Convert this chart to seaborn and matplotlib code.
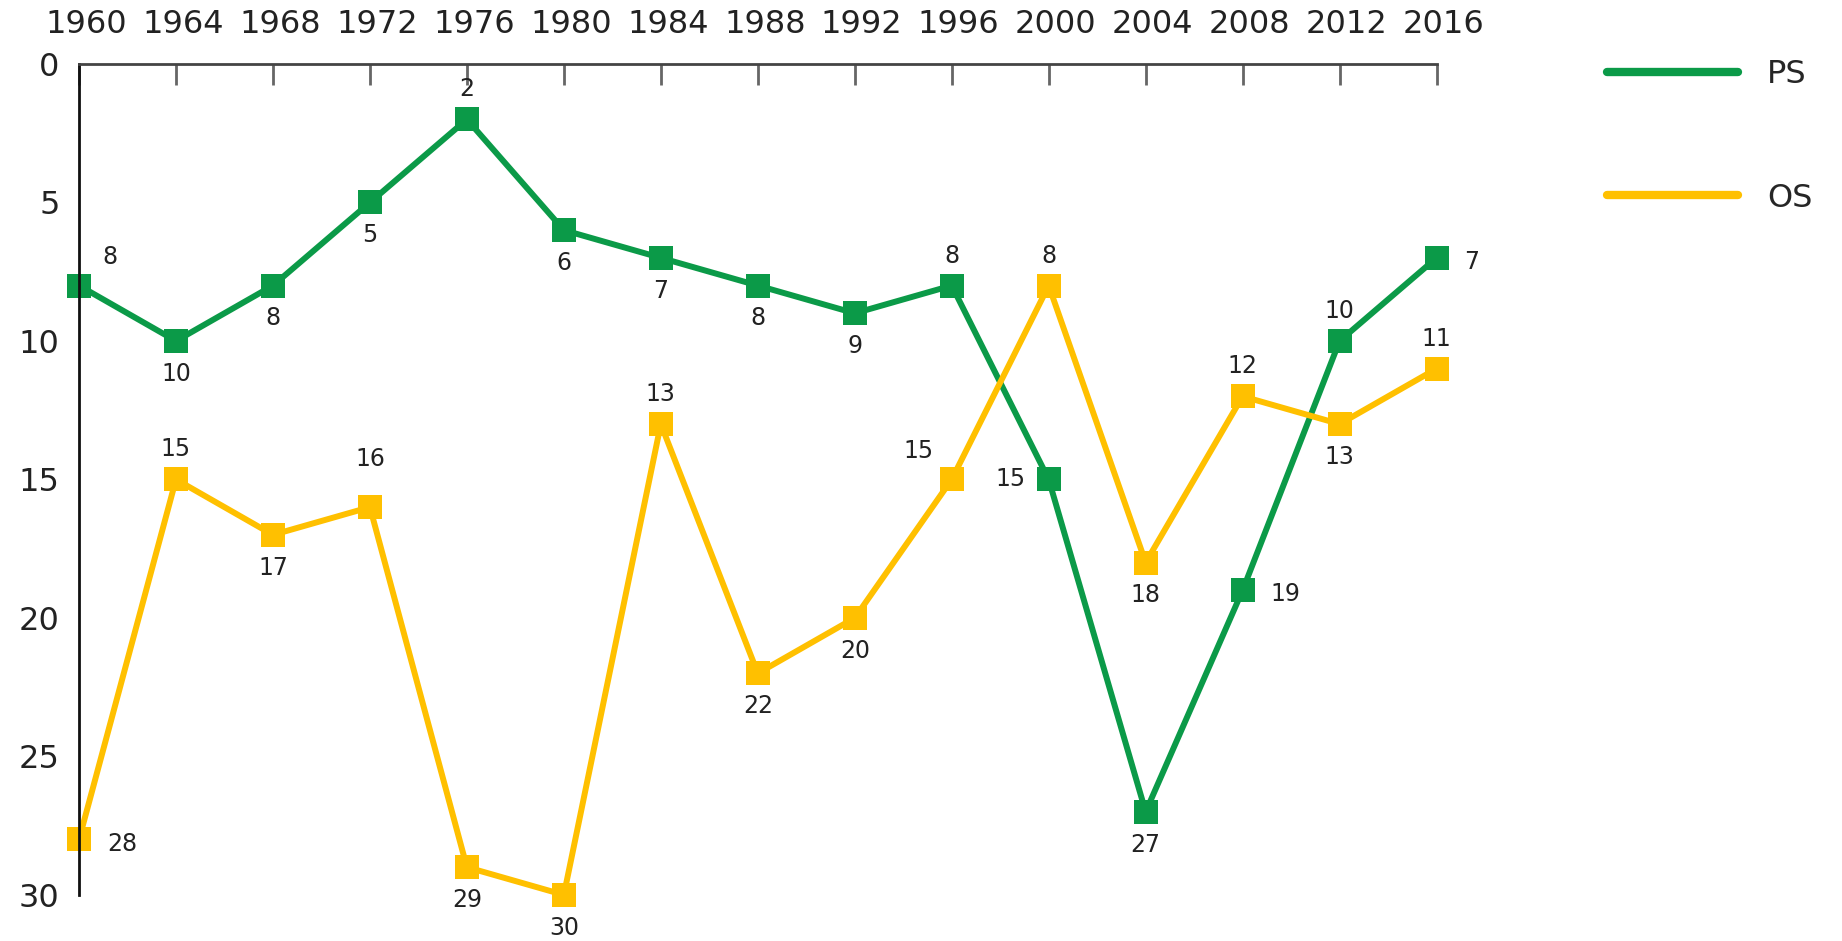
import matplotlib
matplotlib.use("Agg")
import matplotlib.pyplot as plt
import matplotlib.transforms as mtransforms
import seaborn as sns
import pandas as pd
from matplotlib.lines import Line2D

# Data (rank, lower is better)
years = [1960, 1964, 1968, 1972, 1976, 1980, 1984, 1988, 1992, 1996, 2000, 2004, 2008, 2012, 2016]
ps = [8, 10, 8, 5, 2, 6, 7, 8, 9, 8, 15, 27, 19, 10, 7]
os_ = [28, 15, 17, 16, 29, 30, 13, 22, 20, 15, 8, 18, 12, 13, 11]
series = ["PS", "OS"]

# where each value label sits relative to its marker
ps_pos = ["ur", "b", "b", "b", "a", "b", "b", "b", "b", "a", "l", "b", "r", "a", "r"]
os_pos = ["r", "a", "b", "aa", "b", "b", "a", "b", "b", "al", "a", "b", "a", "b", "a"]

colors = {"PS": "#0b9a48", "OS": "#ffc000"}

df = pd.DataFrame({
    "year": years * 2,
    "rank": ps + os_,
    "party": ["PS"] * len(years) + ["OS"] * len(years),
})

sns.set_style("white")
plt.rcParams["font.family"] = ["DejaVu Sans"]

fig = plt.figure(figsize=(18.42, 9.41), dpi=100)
ax = fig.add_axes([0.0429, 0.049, 0.737, 0.883])

sns.lineplot(data=df, x="year", y="rank", hue="party", hue_order=series,
             palette=colors, marker="s", markersize=17, markeredgewidth=0,
             linewidth=4.3, ax=ax, legend=False)
for ln in ax.lines:
    ln.set_clip_on(False)

offsets = {
    "a": (0, 13, "center", "bottom"),
    "aa": (0, 26, "center", "bottom"),
    "b": (0, -15, "center", "top"),
    "l": (-17, 0, "right", "center"),
    "r": (20, -3, "left", "center"),
    "ur": (17, 12, "left", "bottom"),
    "al": (-13, 12, "right", "bottom"),
}
for vals, pos in [(ps, ps_pos), (os_, os_pos)]:
    for x, y, p in zip(years, vals, pos):
        dx, dy, ha, va = offsets[p]
        ax.annotate(str(y), (x, y), xytext=(dx, dy), textcoords="offset points",
                    ha=ha, va=va, fontsize=17, color="#222222")

ax.set_xlim(1960, 2016)
ax.set_ylim(30, 0)
ax.set_xticks(years)
ax.set_yticks(range(0, 31, 5))
ax.xaxis.tick_top()
ax.set_xlabel("")
ax.set_ylabel("")
ax.tick_params(axis="both", direction="in", length=15, width=2, color="#666666",
               labelsize=23, labelcolor="#222222")
ax.tick_params(axis="x", pad=17)
ax.tick_params(axis="y", pad=14)

# labels on the top axis sit a little right of their ticks
shift = mtransforms.ScaledTranslation(7 / 100, 0, fig.dpi_scale_trans)
for lab in ax.get_xticklabels():
    lab.set_transform(lab.get_transform() + shift)

for side in ["right", "bottom"]:
    ax.spines[side].set_visible(False)
ax.spines["left"].set_color("#111111")
ax.spines["top"].set_color("#444444")
ax.spines["left"].set_linewidth(2)
ax.spines["top"].set_linewidth(2)

handles = [Line2D([0], [0], color=colors[s], linewidth=6, solid_capstyle="round") for s in series]
fig.legend(handles, series, loc="upper left", bbox_to_anchor=(0.857, 0.968),
           frameon=False, fontsize=23, handlelength=4.1, labelspacing=2.9,
           handletextpad=0.9)

fig.savefig("out.png", dpi=100)
